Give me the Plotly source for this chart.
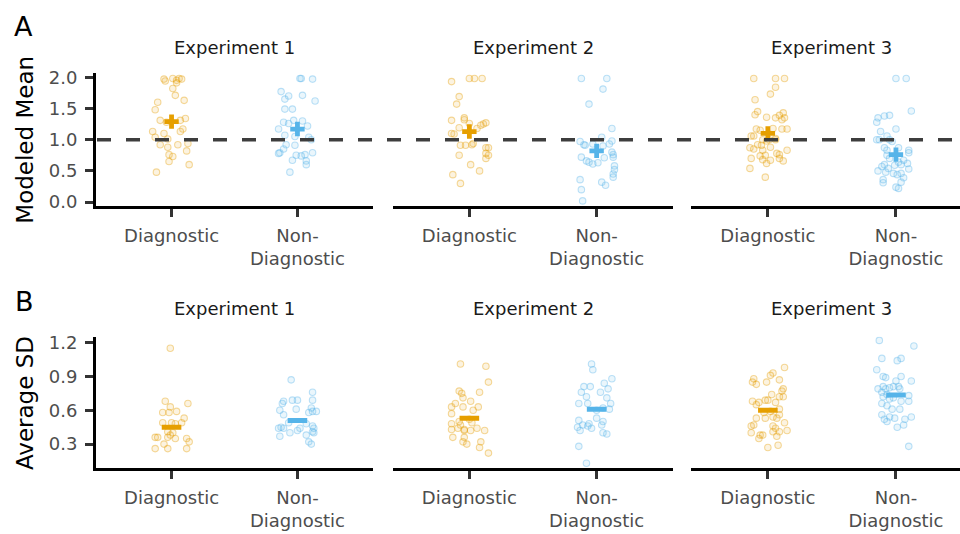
import plotly.graph_objects as go

# ---------------- data ----------------
experiments = ["Experiment 1", "Experiment 2", "Experiment 3"]
conditions = ["Diagnostic", "Non-<br>Diagnostic"]

# Panel A: modeled mean (values + horizontal jitter in category units)
mm_e1_diag = [1.97, 1.94, 1.98, 1.91, 1.98, 1.97, 1.95, 1.82, 1.71, 1.60, 1.63, 1.48, 1.31, 1.28, 1.31, 1.34,
              1.13, 1.10, 1.13, 1.17, 1.04, 1.01, 0.92, 0.88, 0.92, 0.94, 0.76, 0.73, 0.82, 0.65, 0.60, 0.48]
jit_mm_e1_diag = [-0.06, -0.05, 0.01, 0.04, 0.06, 0.08, 0.04, 0.01, 0.03, -0.11, 0.10, -0.13, -0.09, -0.04, 0.07, 0.11,
                  -0.15, -0.06, 0.07, 0.09, -0.13, -0.03, -0.09, -0.03, 0.05, 0.13, -0.02, 0.01, 0.12, -0.02, 0.14, -0.12]
mm_e1_non = [1.98, 1.98, 1.97, 1.77, 1.70, 1.65, 1.71, 1.62, 1.49, 1.49, 1.28, 1.26, 1.31, 1.30, 1.22, 1.17, 1.07,
             1.05, 1.04, 1.00, 0.92, 0.91, 0.85, 0.79, 0.78, 0.75, 0.74, 0.76, 0.79, 0.67, 0.66, 0.60, 0.48]
jit_mm_e1_non = [0.02, 0.03, 0.12, -0.13, -0.07, -0.10, 0.04, 0.14, -0.10, -0.04, -0.11, -0.07, -0.03, 0.04, 0.08, -0.15,
                 -0.10, -0.02, 0.09, 0.11, -0.09, -0.02, -0.11, -0.14, -0.15, -0.01, 0.03, 0.06, 0.12, -0.04, 0.07, 0.07, -0.06]
mm_e2_diag = [1.93, 1.98, 1.98, 1.98, 1.69, 1.57, 1.35, 1.32, 1.31, 1.26, 1.19, 1.18, 1.23, 1.25, 1.27, 1.10,
              1.09, 0.91, 0.91, 0.92, 0.94, 0.87, 0.87, 0.78, 0.75, 0.75, 0.70, 0.60, 0.50, 0.44, 0.30]
jit_mm_e2_diag = [-0.14, 0.00, 0.04, 0.10, -0.08, -0.10, -0.04, -0.04, -0.14, 0.00, -0.08, 0.06, 0.09, 0.11, 0.13, -0.14,
                  -0.12, -0.07, -0.03, 0.02, 0.03, 0.13, 0.15, 0.13, 0.15, -0.08, 0.13, 0.01, 0.08, -0.13, -0.07]
mm_e2_non = [1.98, 1.98, 1.81, 1.57, 1.18, 1.04, 0.97, 0.92, 0.91, 0.93, 0.90, 0.93, 0.98, 0.80, 0.76, 0.72,
             0.72, 0.66, 0.64, 0.61, 0.63, 0.71, 0.58, 0.52, 0.45, 0.40, 0.36, 0.32, 0.27, 0.20, 0.02]
jit_mm_e2_non = [-0.12, 0.08, 0.05, -0.06, 0.12, 0.04, -0.13, -0.10, -0.09, -0.03, 0.05, 0.10, 0.12, 0.12, 0.13, 0.13,
                 -0.12, -0.08, -0.06, -0.03, 0.01, 0.06, 0.14, 0.14, 0.13, 0.13, -0.13, 0.04, 0.07, -0.12, -0.11]
mm_e3_diag = [1.98, 1.98, 1.98, 1.84, 1.73, 1.64, 1.45, 1.40, 1.36, 1.35, 1.39, 1.43, 1.35, 1.32, 1.17, 1.15,
              1.18, 1.17, 1.17, 1.06, 1.06, 1.00, 0.98, 1.00, 1.00, 1.02, 0.92, 0.91, 0.87, 0.85, 0.88, 0.83,
              0.70, 0.74, 0.75, 0.68, 0.67, 0.62, 0.78, 0.76, 0.83, 0.70, 0.66, 0.54, 0.40]
jit_mm_e3_diag = [-0.11, 0.06, 0.13, 0.06, 0.02, -0.10, -0.08, -0.10, -0.01, 0.06, 0.09, 0.12, 0.13, 0.11, -0.09, -0.06,
                  0.04, 0.11, 0.15, -0.13, -0.11, -0.04, -0.01, 0.01, 0.06, 0.06, -0.08, -0.05, -0.14, -0.11, 0.02, -0.04,
                  -0.13, -0.06, -0.02, -0.04, 0.02, -0.01, 0.07, 0.09, 0.15, 0.09, 0.12, -0.14, -0.02]
mm_e3_non = [1.98, 1.98, 1.46, 1.35, 1.38, 1.39, 1.28, 1.17, 1.13, 1.06, 1.00, 1.00, 1.00, 0.97, 0.87, 0.83,
             0.87, 0.83, 0.79, 0.75, 0.70, 0.59, 0.64, 0.67, 0.60, 0.60, 0.57, 0.50, 0.54, 0.48, 0.62, 0.53,
             0.46, 0.44, 0.46, 0.39, 0.36, 0.31, 0.32, 0.24, 0.22]
jit_mm_e3_non = [0.00, 0.08, 0.12, -0.14, -0.09, -0.05, -0.15, 0.00, -0.12, -0.07, -0.05, -0.15, -0.13, -0.03, -0.09, -0.07,
                 0.02, 0.10, 0.10, -0.07, -0.05, -0.01, 0.02, 0.06, 0.04, -0.09, -0.11, -0.14, -0.06, -0.08, 0.09, 0.10,
                 -0.02, 0.01, 0.04, 0.06, -0.10, -0.10, 0.04, 0.00, 0.02]
mm_means_diag = [1.29, 1.13, 1.10]
mm_means_non = [1.17, 0.82, 0.76]

# Panel B: average SD
sd_e1_diag = [1.15, 0.68, 0.66, 0.63, 0.59, 0.58, 0.58, 0.53, 0.49, 0.49, 0.49, 0.48, 0.41, 0.40, 0.36, 0.36,
              0.35, 0.36, 0.35, 0.32, 0.30, 0.26, 0.26, 0.26, 0.38]
jit_sd_e1_diag = [-0.01, -0.05, 0.13, -0.01, 0.04, -0.07, -0.02, 0.10, 0.08, -0.07, 0.00, 0.03, -0.03, 0.01, -0.13, -0.11,
                  0.03, -0.03, 0.12, 0.14, -0.06, -0.13, -0.03, 0.12, -0.01]
sd_e1_non = [0.87, 0.76, 0.68, 0.69, 0.69, 0.69, 0.66, 0.61, 0.62, 0.59, 0.60, 0.56, 0.58, 0.59, 0.49, 0.45,
             0.44, 0.44, 0.44, 0.42, 0.48, 0.46, 0.44, 0.41, 0.40, 0.40, 0.37, 0.38, 0.32, 0.30]
jit_sd_e1_non = [-0.05, 0.12, -0.11, -0.04, 0.00, 0.12, -0.12, -0.01, 0.11, 0.12, -0.14, -0.11, 0.09, 0.15, -0.07, -0.13,
                 -0.15, -0.11, 0.02, 0.00, 0.07, 0.12, 0.13, 0.12, 0.13, -0.06, -0.14, 0.07, 0.09, 0.11]
sd_e2_diag = [1.01, 0.99, 0.85, 0.77, 0.75, 0.71, 0.76, 0.66, 0.63, 0.68, 0.63, 0.63, 0.60, 0.57, 0.49, 0.52,
              0.48, 0.50, 0.43, 0.44, 0.43, 0.42, 0.42, 0.44, 0.42, 0.36, 0.36, 0.32, 0.30, 0.32, 0.27, 0.22, 0.47]
jit_sd_e2_diag = [-0.07, 0.13, 0.15, -0.08, -0.06, -0.05, 0.08, -0.11, -0.14, 0.01, -0.05, 0.07, 0.03, -0.14, 0.02, 0.00,
                  -0.14, -0.08, -0.14, -0.09, -0.04, -0.04, 0.01, 0.06, 0.12, -0.13, -0.04, -0.05, -0.02, 0.09, 0.08, 0.15, -0.07]
sd_e2_non = [1.01, 0.96, 0.88, 0.81, 0.81, 0.84, 0.79, 0.76, 0.72, 0.76, 0.71, 0.66, 0.66, 0.66, 0.61, 0.60,
             0.62, 0.51, 0.47, 0.45, 0.46, 0.44, 0.48, 0.53, 0.50, 0.47, 0.42, 0.40, 0.39, 0.28, 0.13]
jit_sd_e2_non = [-0.04, -0.03, 0.12, -0.10, -0.05, 0.06, 0.09, -0.12, -0.08, 0.03, 0.08, -0.14, -0.07, 0.11, 0.10, 0.00,
                 0.05, -0.14, -0.11, -0.15, -0.07, -0.04, -0.06, 0.00, 0.05, 0.04, -0.13, 0.05, 0.08, -0.14, -0.08]
sd_e3_diag = [0.98, 0.91, 0.93, 0.88, 0.85, 0.83, 0.85, 0.87, 0.79, 0.77, 0.74, 0.72, 0.72, 0.68, 0.65, 0.67,
              0.69, 0.69, 0.67, 0.61, 0.56, 0.53, 0.53, 0.54, 0.53, 0.49, 0.47, 0.46, 0.46, 0.44, 0.42, 0.41,
              0.40, 0.38, 0.38, 0.41, 0.37, 0.35, 0.27, 0.29, 0.58, 0.59]
jit_sd_e3_diag = [0.13, 0.02, 0.04, -0.11, -0.12, -0.09, -0.01, 0.09, 0.12, 0.11, 0.03, 0.09, 0.12, -0.12, -0.09, -0.07,
                  -0.02, 0.00, 0.06, 0.09, 0.09, -0.09, -0.02, 0.04, 0.07, 0.13, -0.11, -0.13, 0.04, 0.06, 0.15, 0.09,
                  -0.13, -0.06, -0.04, 0.04, 0.07, -0.07, 0.00, 0.08, -0.03, 0.02]
sd_e3_non = [1.22, 1.17, 1.06, 1.04, 1.06, 0.96, 0.90, 0.89, 0.90, 0.86, 0.86, 0.79, 0.81, 0.79, 0.80, 0.81,
             0.81, 0.79, 0.76, 0.72, 0.74, 0.73, 0.70, 0.71, 0.68, 0.66, 0.68, 0.61, 0.61, 0.64, 0.56, 0.52,
             0.50, 0.54, 0.53, 0.52, 0.47, 0.54, 0.45, 0.28]
jit_sd_e3_non = [-0.13, 0.14, -0.11, 0.01, 0.04, -0.15, -0.10, -0.08, 0.04, 0.00, 0.12, -0.14, -0.10, -0.08, -0.05, -0.02,
                 0.02, 0.03, -0.11, -0.10, -0.07, 0.10, -0.05, -0.02, 0.04, -0.11, 0.10, -0.03, 0.03, -0.07, -0.11, -0.09,
                 -0.07, -0.05, -0.01, 0.07, 0.06, 0.12, 0.01, 0.10]
sd_means_diag = [0.45, 0.53, 0.60]
sd_means_non = [0.51, 0.61, 0.735]

mm_tick_vals = [0.0, 0.5, 1.0, 1.5, 2.0]
sd_tick_vals = [0.3, 0.6, 0.9, 1.2]
reference_line = 1.0

# ---------------- styling ----------------
W, H = 960, 534
ORANGE = (230, 159, 0)
BLUE = (86, 180, 233)
FONT = "DejaVu Sans"


def px_x(p):
    return p / W


def px_y(p):
    return 1 - p / H


x_domains = [(96, 373), (393, 673), (691, 960)]
x_ranges = [[0.4, 2.6], [0.4, 2.6], [0.4, 2.5]]
title_centers = [234.5, 533, 831.5]
row_y_domain = {0: (204, 68), 1: (473, 338)}
row_y_range = {0: [-0.0625, 2.0625], 1: [0.0837, 1.252]}

fig = go.Figure()

mm_groups = [
    (mm_e1_diag, jit_mm_e1_diag, mm_e1_non, jit_mm_e1_non),
    (mm_e2_diag, jit_mm_e2_diag, mm_e2_non, jit_mm_e2_non),
    (mm_e3_diag, jit_mm_e3_diag, mm_e3_non, jit_mm_e3_non),
]
sd_groups = [
    (sd_e1_diag, jit_sd_e1_diag, sd_e1_non, jit_sd_e1_non),
    (sd_e2_diag, jit_sd_e2_diag, sd_e2_non, jit_sd_e2_non),
    (sd_e3_diag, jit_sd_e3_diag, sd_e3_non, jit_sd_e3_non),
]


def rgba(c, a):
    return f"rgba({c[0]},{c[1]},{c[2]},{a})"


def add_points(vals, jit, cat, color, ax_idx):
    suffix = "" if ax_idx == 1 else str(ax_idx)
    fig.add_trace(go.Scatter(
        x=[cat + j for j in jit], y=vals, mode="markers",
        xaxis="x" + suffix, yaxis="y" + suffix, hoverinfo="skip",
        marker=dict(size=6.5, color=rgba(color, 0.12),
                    line=dict(color=rgba(color, 0.38), width=1.1)),
        showlegend=False))


def add_mean(m, cat, color, ax_idx, row):
    suffix = "" if ax_idx == 1 else str(ax_idx)
    if row == 0:
        marker = dict(symbol="cross", size=12, color=rgba(color, 1), line=dict(width=0))
    else:
        marker = dict(symbol="line-ew", size=14, color=rgba(color, 1),
                      line=dict(color=rgba(color, 1), width=5))
    fig.add_trace(go.Scatter(x=[cat], y=[m], mode="markers", xaxis="x" + suffix, yaxis="y" + suffix,
                             marker=marker, hoverinfo="skip", showlegend=False))


for row, (groups, means_d, means_n) in enumerate([(mm_groups, mm_means_diag, mm_means_non),
                                                  (sd_groups, sd_means_diag, sd_means_non)]):
    for k in range(3):
        idx = row * 3 + k + 1
        dv, dj, nv, nj = groups[k]
        add_points(dv, dj, 1, ORANGE, idx)
        add_points(nv, nj, 2, BLUE, idx)
        add_mean(means_d[k], 1, ORANGE, idx, row)
        add_mean(means_n[k], 2, BLUE, idx, row)

layout = dict(
    width=W, height=H, margin=dict(l=0, r=0, t=0, b=0),
    paper_bgcolor="white", plot_bgcolor="white",
    font=dict(family=FONT, size=18, color="#4D4D4D"),
    showlegend=False,
)

for row in range(2):
    for k in range(3):
        idx = row * 3 + k + 1
        suffix = "" if idx == 1 else str(idx)
        xd = x_domains[k]
        yd = row_y_domain[row]
        layout["xaxis" + suffix] = dict(
            domain=[px_x(xd[0]), px_x(xd[1])], range=x_ranges[k], anchor="y" + suffix,
            showline=True, linecolor="black", linewidth=3, showgrid=False, zeroline=False,
            ticks="outside", ticklen=8, tickwidth=2.5, tickcolor="#333333",
            tickvals=[1, 2], ticktext=conditions, ticklabelstandoff=3,
            tickfont=dict(family=FONT, size=18, color="#4D4D4D"), fixedrange=True)
        ydict = dict(
            domain=[px_y(yd[0]), px_y(yd[1])], range=row_y_range[row], anchor="x" + suffix,
            showgrid=False, zeroline=False, fixedrange=True)
        if k == 0:
            tv = mm_tick_vals if row == 0 else sd_tick_vals
            ydict.update(showline=True, linecolor="black", linewidth=3,
                         ticks="outside", ticklen=8, tickwidth=2.5, tickcolor="#333333",
                         tickvals=tv, ticktext=[f"{v:.1f}" for v in tv], ticklabelstandoff=4,
                         tickfont=dict(family=FONT, size=18, color="#4D4D4D"))
        else:
            ydict.update(showline=False, showticklabels=False, ticks="")
        layout["yaxis" + suffix] = ydict

annotations = []
for row, ty in enumerate([41, 309]):
    for k in range(3):
        annotations.append(dict(
            text=experiments[k], x=px_x(title_centers[k]), y=px_y(ty), xref="paper", yref="paper",
            xanchor="center", yanchor="middle", showarrow=False,
            font=dict(family=FONT, size=18, color="#1A1A1A")))
annotations.append(dict(text="A", x=px_x(23), y=px_y(20), xref="paper", yref="paper",
                        xanchor="center", yanchor="middle", showarrow=False,
                        font=dict(family=FONT, size=27, color="black")))
annotations.append(dict(text="B", x=px_x(24), y=px_y(302), xref="paper", yref="paper",
                        xanchor="center", yanchor="middle", showarrow=False,
                        font=dict(family=FONT, size=27, color="black")))
annotations.append(dict(text="Modeled Mean", x=px_x(25), y=px_y(136), xref="paper", yref="paper",
                        xanchor="center", yanchor="middle", showarrow=False, textangle=-90,
                        font=dict(family=FONT, size=23, color="black")))
annotations.append(dict(text="Average SD", x=px_x(25), y=px_y(406), xref="paper", yref="paper",
                        xanchor="center", yanchor="middle", showarrow=False, textangle=-90,
                        font=dict(family=FONT, size=23, color="black")))
layout["annotations"] = annotations

layout["shapes"] = [dict(
    type="line", xref="paper", yref="y", x0=px_x(97), x1=1.0, y0=reference_line, y1=reference_line,
    line=dict(color="#3D3D3D", width=3.5, dash="14px,15px"), layer="above")]

fig.update_layout(**layout)
fig.write_html("out.html", config={"displayModeBar": False},
               post_script="document.body.style.margin='0px';document.body.style.padding='0px';")
